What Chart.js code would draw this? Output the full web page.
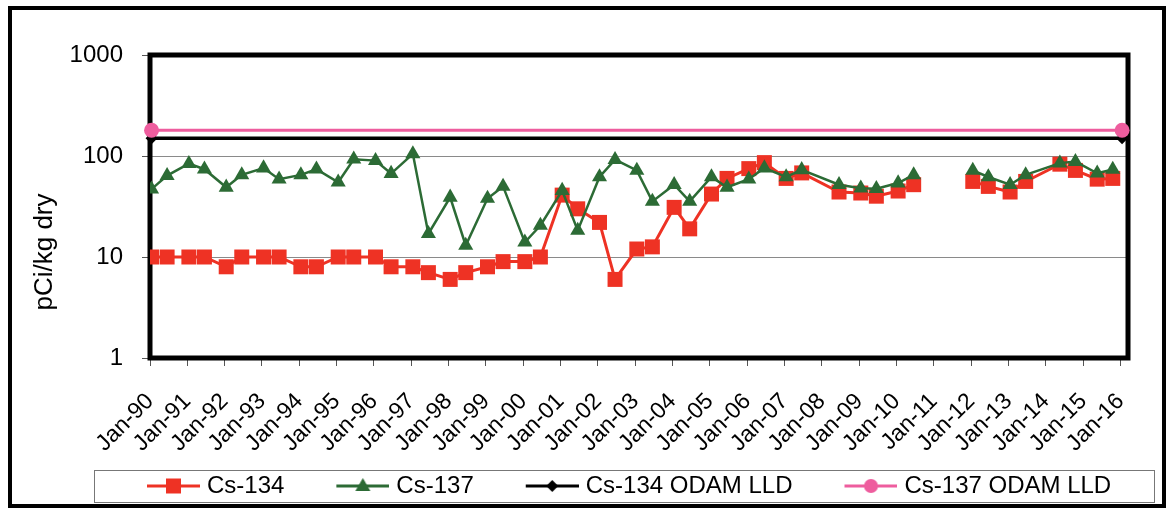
<!DOCTYPE html>
<html lang="en">
<head>
<meta charset="UTF-8">
<title>Cs-134 / Cs-137 (pCi/kg dry)</title>
<script src="https://cdn.jsdelivr.net/npm/chart.js"></script>
<style>
  html, body { margin: 0; padding: 0; background: #fff; }
  canvas { display: block; }
</style>
</head>
<body>
<canvas id="csChart" width="1172" height="510"></canvas>
<script>
// sample dates (YYYY-MM); '2011-01' is a missing sample (gap in the lines)
const sampleDates = [
  '1990-01', '1990-06', '1991-01', '1991-06', '1992-01', '1992-06', '1993-01', '1993-06',
  '1994-01', '1994-06', '1995-01', '1995-06', '1996-01', '1996-06', '1997-01', '1997-06',
  '1998-01', '1998-06', '1999-01', '1999-06', '2000-01', '2000-06', '2001-01', '2001-06',
  '2002-01', '2002-06', '2003-01', '2003-06', '2004-01', '2004-06', '2005-01', '2005-06',
  '2006-01', '2006-06', '2007-01', '2007-06', '2008-06', '2009-01', '2009-06', '2010-01',
  '2010-06', '2011-01', '2012-01', '2012-06', '2013-01', '2013-06', '2014-05', '2014-10',
  '2015-05', '2015-10'
];
const cs134 = [
  10, 10, 10, 10, 8, 10, 10, 10,
  8, 8, 10, 10, 10, 8, 8, 7,
  6, 7, 8, 9, 9, 10, 41, 30,
  22, 6, 12, 12.6, 31, 19, 42, 60,
  75, 86, 60, 68, 44, 43, 40, 45,
  52, null, 56, 50, 44, 56, 83, 72,
  59, 60
];
const cs137 = [
  47, 64, 84, 74, 49, 65, 76, 59,
  65, 74, 55, 93, 90, 67, 105, 17,
  39, 13, 38, 50, 14, 20.5, 45.5, 18.3,
  62, 92, 72, 35.5, 52, 35.5, 62, 49,
  59, 76, 62, 73, 52, 48, 47.5, 54,
  65, null, 72, 62, 52, 65, 85, 88,
  67.5, 73.5
];
const lldDates = ['1990-01', '2016-01'];
const cs134Lld = [150, 150];
const cs137Lld = [180, 180];

const yearTicks = [1990, 1991, 1992, 1993, 1994, 1995, 1996, 1997, 1998, 1999, 2000, 2001, 2002,
  2003, 2004, 2005, 2006, 2007, 2008, 2009, 2010, 2011, 2012, 2013, 2014, 2015, 2016];
const yTicks = [1, 10, 100, 1000];

const RED = '#ee3224';
const GREEN = '#2c6b35';
const PINK = '#ee5d9e';
const FONT = "'Liberation Sans', Arial, sans-serif";

const toYear = s => {
  const [y, m] = s.split('-').map(Number);
  return y + (m - 0.5) / 12;
};
const points = (dates, vals) => dates.map((d, i) => ({ x: toYear(d), y: vals[i] }));

// Excel-like legend swatch: short line with the marker in the middle
function legendIcon(color, shape) {
  const c = document.createElement('canvas');
  c.width = 100; c.height = 24;
  const g = c.getContext('2d');
  const cx = 73.5, cy = 12;
  g.strokeStyle = color; g.lineWidth = 3;
  g.beginPath(); g.moveTo(47, cy); g.lineTo(100, cy); g.stroke();
  g.fillStyle = color;
  g.beginPath();
  if (shape === 'rect') {
    g.rect(cx - 7.5, cy - 7.5, 15, 15);
  } else if (shape === 'triangle') {
    g.moveTo(cx, cy - 8); g.lineTo(cx + 7.5, cy + 5); g.lineTo(cx - 7.5, cy + 5); g.closePath();
  } else if (shape === 'diamond') {
    g.moveTo(cx, cy - 6); g.lineTo(cx + 6, cy); g.lineTo(cx, cy + 6); g.lineTo(cx - 6, cy); g.closePath();
  } else {
    g.arc(cx, cy, 7, 0, Math.PI * 2);
  }
  g.fill();
  return c;
}
const legendIcons = [
  legendIcon(RED, 'rect'),
  legendIcon(GREEN, 'triangle'),
  legendIcon('#000', 'diamond'),
  legendIcon(PINK, 'circle')
];

const framePlugin = {
  id: 'frames',
  beforeDatasetsDraw(chart) {
    const { ctx, chartArea: a } = chart;
    ctx.save();
    ctx.lineWidth = 5;
    ctx.strokeStyle = '#000';
    ctx.strokeRect(a.left, a.top, a.right - a.left, a.bottom - a.top);
    ctx.restore();
  },
  afterDraw(chart) {
    const ctx = chart.ctx;
    ctx.save();
    // outer frame
    ctx.lineWidth = 4;
    ctx.strokeStyle = '#000';
    ctx.strokeRect(10, 8, 1154, 498);
    // legend box
    ctx.lineWidth = 1;
    ctx.strokeStyle = '#777';
    ctx.strokeRect(94.5, 470.5, 1060, 32);
    // y axis title
    ctx.translate(45, 252);
    ctx.rotate(-Math.PI / 2);
    ctx.fillStyle = '#000';
    ctx.font = '26px ' + FONT;
    ctx.textAlign = 'center';
    ctx.textBaseline = 'middle';
    ctx.fillText('pCi/kg dry', 0, 0);
    ctx.restore();
  }
};

new Chart(document.getElementById('csChart'), {
  type: 'line',
  data: {
    datasets: [
      {
        label: 'Cs-134',
        data: points(sampleDates, cs134),
        borderColor: RED, backgroundColor: RED,
        borderWidth: 3,
        pointStyle: 'rect', pointRadius: 10.6, pointBorderWidth: 0,
        spanGaps: false, order: 1
      },
      {
        label: 'Cs-137',
        data: points(sampleDates, cs137),
        borderColor: GREEN, backgroundColor: GREEN,
        borderWidth: 2.5,
        pointStyle: 'triangle', pointRadius: 8.7, pointBorderWidth: 0,
        spanGaps: false, order: 0
      },
      {
        label: 'Cs-134 ODAM LLD',
        data: points(lldDates, cs134Lld),
        borderColor: '#000', backgroundColor: '#000',
        borderWidth: 3.5,
        pointStyle: 'rectRot', pointRadius: 6, pointBorderWidth: 0,
        clip: false, order: 3
      },
      {
        label: 'Cs-137 ODAM LLD',
        data: points(lldDates, cs137Lld),
        borderColor: PINK, backgroundColor: PINK,
        borderWidth: 3,
        pointStyle: 'circle', pointRadius: 7.5, pointBorderWidth: 0,
        clip: false, order: 2
      }
    ]
  },
  options: {
    responsive: false,
    animation: false,
    layout: { padding: { left: 50, right: 5.8, top: 55, bottom: 2 } },
    scales: {
      x: {
        type: 'linear',
        min: 1990, max: 2016.2,
        afterBuildTicks: s => { s.ticks = yearTicks.map(v => ({ value: v })); },
        afterFit: s => { s.height = 106; },
        grid: { drawOnChartArea: false, tickLength: 8, tickColor: '#555', color: '#555' },
        border: { display: false },
        ticks: {
          autoSkip: false, minRotation: 45, maxRotation: 45, padding: 22,
          color: '#000', font: { family: FONT, size: 23 },
          callback: v => 'Jan-' + String(v % 100).padStart(2, '0')
        }
      },
      y: {
        type: 'logarithmic',
        min: 1, max: 1000,
        afterBuildTicks: s => { s.ticks = yTicks.map(v => ({ value: v })); },
        afterFit: s => { s.width = 100; },
        grid: {
          color: c => (c.tick && (c.tick.value === 10 || c.tick.value === 100)) ? '#8a8a8a' : 'rgba(0,0,0,0)',
          tickColor: '#555', tickLength: 8, lineWidth: 1
        },
        border: { display: false },
        ticks: {
          padding: 19, color: '#000', font: { family: FONT, size: 24 },
          callback: v => String(v)
        }
      },
      // empty right-hand box so the chart area ends where the reference's does
      yRight: {
        type: 'logarithmic', position: 'right',
        min: 1, max: 1000,
        afterFit: s => { s.width = 38.2; },
        grid: { display: false },
        border: { display: false },
        ticks: { display: false }
      }
    },
    plugins: {
      tooltip: { enabled: false },
      legend: {
        position: 'bottom',
        labels: {
          usePointStyle: true,
          pointStyleWidth: 90,
          padding: 10,
          color: '#000',
          font: { family: FONT, size: 24 },
          sort: (a, b) => a.datasetIndex - b.datasetIndex,
          generateLabels(chart) {
            const items = Chart.defaults.plugins.legend.labels.generateLabels(chart);
            items.forEach(it => { it.pointStyle = legendIcons[it.datasetIndex]; });
            return items;
          }
        }
      }
    }
  },
  plugins: [framePlugin]
});
</script>
</body>
</html>
